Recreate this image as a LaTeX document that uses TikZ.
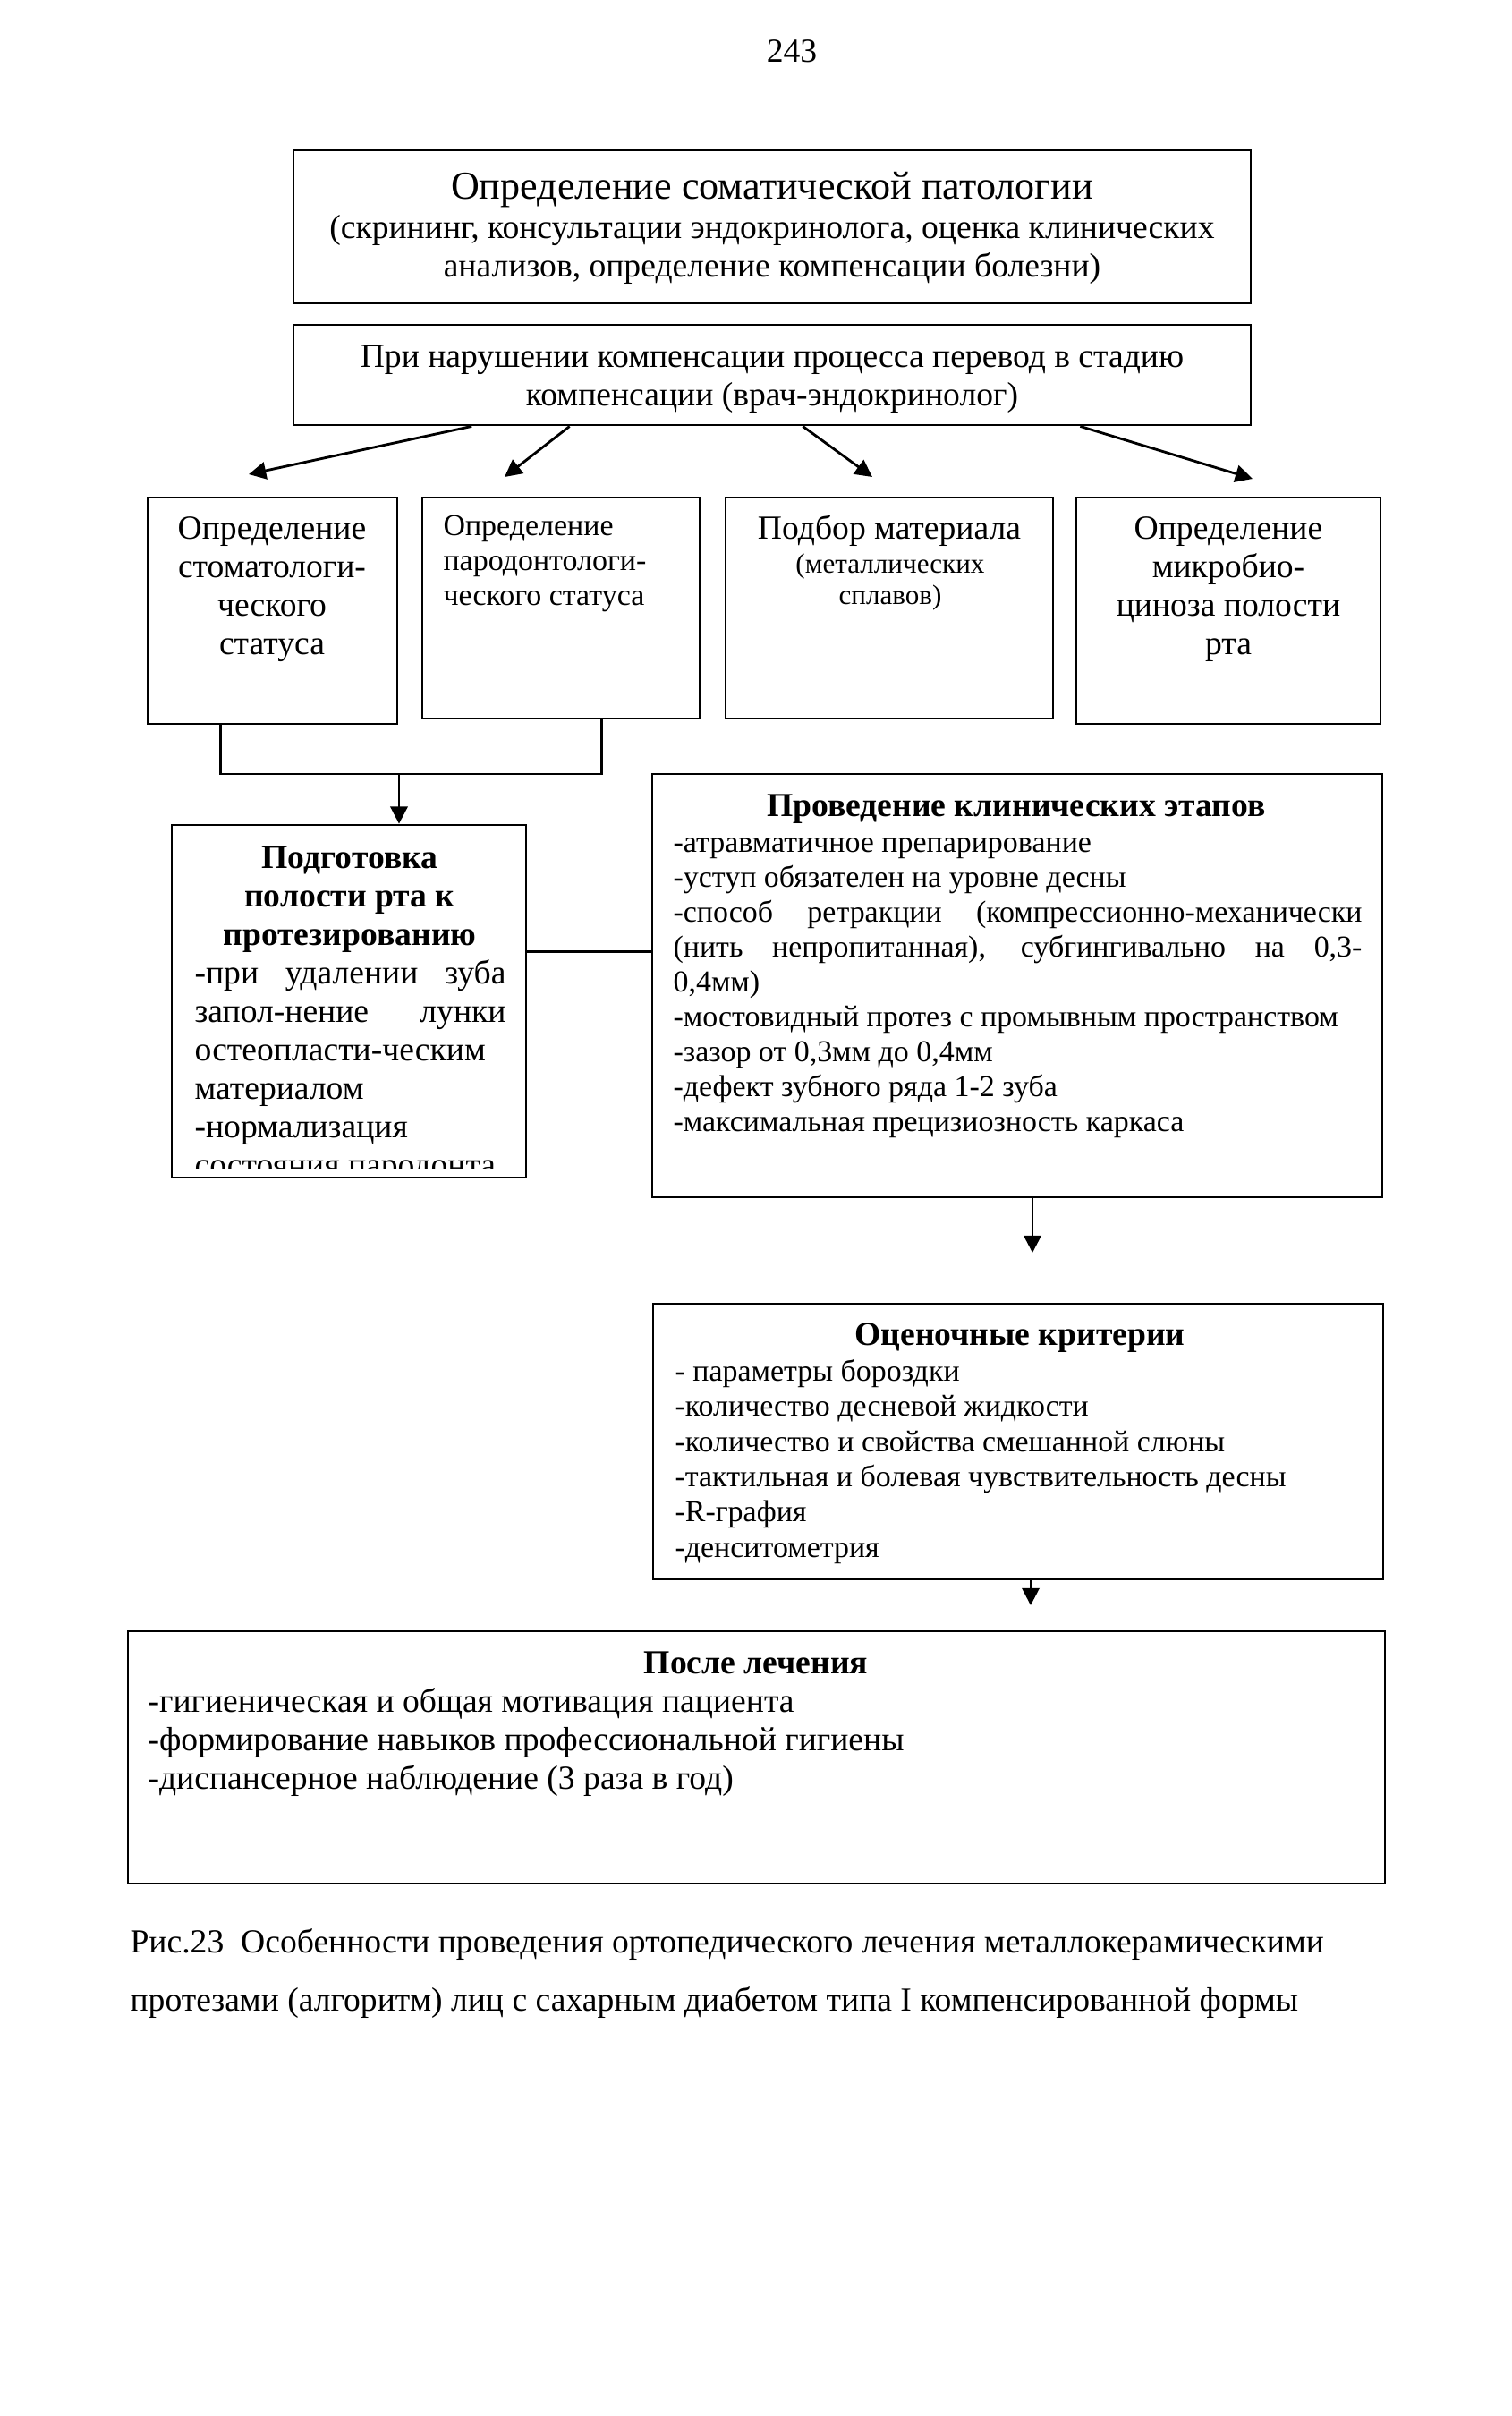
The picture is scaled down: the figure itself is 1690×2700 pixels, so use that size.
\documentclass[tikz,border=0pt]{standalone}
\usepackage{fontspec}
\setmainfont{Liberation Serif}
\usetikzlibrary{arrows.meta,fit,calc}
\newlength\pxu \setlength\pxu{0.3535pt}
\newcommand{\tl}[1]{\begin{tabular}[t]{@{}l@{}}#1\end{tabular}}
\newcommand{\tc}[1]{\begin{tabular}[t]{@{}c@{}}#1\end{tabular}}
\newcommand{\js}[2]{\makebox[#1\pxu][s]{#2}}
\begin{document}
\begin{tikzpicture}[x=0.3535pt,y=-0.3535pt,
  box/.style={draw, line width=1pt, inner sep=0pt, fit={#1}},
  conn/.style={line width=1pt},
  arr/.style={line width=1pt, -{Triangle[length=6.8pt,width=6.8pt]}},
  txt/.style={inner sep=0pt},
  f14/.style={font=\fontsize{13.3}{15.2}\selectfont},
  f14b/.style={font=\fontsize{13.3}{15.2}\selectfont\bfseries},
  f12/.style={font=\fontsize{12}{13.8}\selectfont}]
\useasboundingbox (0,0) rectangle (1690,2700);

% boxes
\node[box={(328,168) (1398,339)}] (b1) {};
\node[box={(328,363) (1398,475)}] (b2) {};
\node[box={(165,556) (444,809)}] (s1) {};
\node[box={(472,556) (782,803)}] (s2) {};
\node[box={(811,556) (1177,803)}] (s3) {};
\node[box={(1203,556) (1543,809)}] (s4) {};
\node[box={(192,922) (588,1316)}] (b5) {};
\node[box={(729,865) (1545,1338)}] (b6) {};
\node[box={(730,1457) (1546,1765)}] (b7) {};
\node[box={(143,1823) (1548,2105)}] (b8) {};

% page number
\node[txt, anchor=base, f14] (pg) at (885,69) {243};

% box 1
\node[txt, anchor=base, font=\fontsize{15.6}{16}\selectfont] (b1t) at (863,222) {Определение соматической патологии};
\node[txt, anchor=base, f14] (b1s) at (863,266)
  {\tc{(скрининг, консультации эндокринолога, оценка клинических\\анализов, определение компенсации болезни)}};

% box 2
\node[txt, anchor=base, font=\fontsize{13.3}{15.4}\selectfont] (b2t) at (863,410)
  {\tc{При нарушении компенсации процесса перевод в стадию\\компенсации (врач-эндокринолог)}};

% row of four
\node[txt, anchor=base, f14] (s1t) at (304,602) {\tc{Определение\\стоматологи-\\ческого\\статуса}};
\node[txt, anchor=base west, f12] (s2t) at (495,598) {\tl{Определение\\пародонтологи-\\ческого статуса}};
\node[txt, anchor=base, f14] (s3t) at (994,602) {Подбор материала};
\node[txt, anchor=base, font=\fontsize{11}{12.4}\selectfont] (s3s) at (995,640) {\tc{(металлических\\сплавов)}};
\node[txt, anchor=base, f14] (s4t) at (1373,602) {\tc{Определение\\микробио-\\циноза полости\\рта}};

% box 5
\node[txt, anchor=base, f14b] (b5t) at (391,970) {\tc{Подготовка\\полости рта к\\протезированию}};
\begin{scope}
\clip (192,922) rectangle (588,1305);
\node[txt, anchor=base west, f14] (b5b) at (217,1099)
  {\tl{\js{348}{-при удалении зуба}\\\js{348}{запол-нение лунки}\\остеопласти-ческим\\материалом\\-нормализация\\состояния пародонта}};
\end{scope}

% box 6
\node[txt, anchor=base, f14b] (b6t) at (1136,912) {Проведение клинических этапов};
\node[txt, anchor=base west, f12] (b6b) at (752,952)
  {\tl{-атравматичное препарирование\\
  -уступ обязателен на уровне десны\\
  \js{770}{-способ ретракции (компрессионно-механически}\\
  \js{770}{(нить непропитанная), субгингивально на 0,3-}\\
  0,4мм)\\
  -мостовидный протез с промывным пространством\\
  -зазор от 0,3мм до 0,4мм\\
  -дефект зубного ряда 1-2 зуба\\
  -максимальная прецизиозность каркаса}};

% box 7
\node[txt, anchor=base, f14b] (b7t) at (1140,1503) {Оценочные критерии};
\node[txt, anchor=base west, font=\fontsize{12}{13.96}\selectfont] (b7b) at (754,1543)
  {\tl{- параметры бороздки\\
  -количество десневой жидкости\\
  -количество и свойства смешанной слюны\\
  -тактильная и болевая чувствительность десны\\
  -R-графия\\
  -денситометрия}};

% box 8
\node[txt, anchor=base, f14b] (b8t) at (845,1870) {После лечения};
\node[txt, anchor=base west, f14] (b8b) at (165,1913)
  {\tl{-гигиеническая и общая мотивация пациента\\
  -формирование навыков профессиональной гигиены\\
  -диспансерное наблюдение (3 раза в год)}};

% caption
\node[txt, anchor=base west, font=\fontsize{13.3}{23.3}\selectfont] (cap) at (145,2182)
  {\tl{Рис.23\ \ Особенности проведения ортопедического лечения металлокерамическими\\
  протезами (алгоритм) лиц с сахарным диабетом типа I компенсированной формы}};

% connectors
\coordinate (t1) at (278,530);
\coordinate (t2) at (564,533);
\coordinate (t3) at (975,533);
\coordinate (t4) at (1400,535);
\draw[arr] ($(b2.south west)!0.187!(b2.south east)$) -- (t1);
\draw[arr] ($(b2.south west)!0.289!(b2.south east)$) -- (t2);
\draw[arr] ($(b2.south west)!0.532!(b2.south east)$) -- (t3);
\draw[arr] ($(b2.south west)!0.821!(b2.south east)$) -- (t4);

\coordinate (j) at (446,865);
\draw[conn] ($(s1.south west)!0.294!(s1.south east)$) |- (j) -| ($(s2.south west)!0.645!(s2.south east)$);
\draw[arr] (j) -- (b5.north -| j);

\draw[conn] ($(b5.north east)!0.36!(b5.south east)$) coordinate (c56) -- (c56 -| b6.west);

\coordinate (e7) at (1154,1400);
\draw[arr] (b6.south -| e7) -- (e7);
\coordinate (e8) at (1152,1794);
\draw[arr] (b7.south -| e8) -- (e8);
\end{tikzpicture}
\end{document}
